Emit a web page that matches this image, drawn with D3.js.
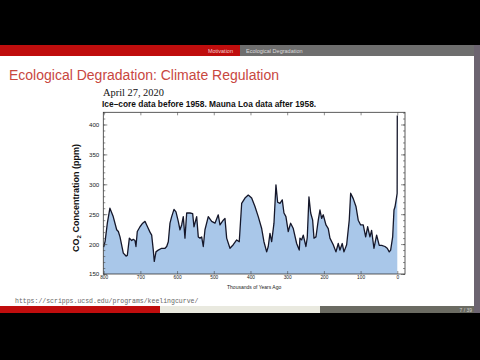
<!DOCTYPE html>
<html><head><meta charset="utf-8">
<script src="https://cdn.jsdelivr.net/npm/d3@7"></script>
<style>html,body{margin:0;padding:0;background:#000;}svg{display:block;}</style>
</head><body>
<svg id="c" width="480" height="360"></svg>
<script>
// Data (thousands of years ago, CO2 ppm)
const kyrAgo = [800,796,790,783,774,764.5,760,755.5,746.5,739,735.6,730,723.6,719.3,714.7,712,708.4,701,693.7,687.4,682.8,678.4,673.8,669.2,664.8,662.1,657.5,651.2,641.9,632.9,628.3,623.9,619.3,614.7,608.4,603,596.7,592.1,587.5,583.1,578.5,573.8,564.8,557.5,554,546.6,542.2,537.6,533,528.6,524,515,505.7,496.7,487.8,483.1,474.1,469.5,464.9,455.9,446.9,437.6,430.6,424,415,406,396.8,387.8,378.8,369.5,363.3,355.9,351.6,346.9,342.3,336,330.6,326,319.7,313.4,308.8,303.4,297.1,290.6,283.4,274.2,267.1,265.2,260.7,256.2,248.9,245.3,240.7,236,230.6,227,221.6,215.3,210.7,206.1,201.7,194.3,188.1,183.5,174.5,167.1,160.9,156.2,150,145.3,138,130.9,127.1,120,112.6,106.4,99.8,92.8,86.2,80.8,74.5,70,63.6,56.3,49.2,42.6,33.6,27.4,21.9,18.1,12.6,9,6.3,1.8,0.4,0];
const co2 = [195,205,235,260,246,224,221,212,185,180,181,210,206,208,206,196,221,229,235,238,232,226,220,215,190,171,187,190,193,193,196,204,235,246,258,254,238,224,232,246,210,252,252,251,229,246,212,210,212,196,224,246,238,235,249,232,240,243,210,193,199,207,204,268,277,282,277,263,246,226,204,187,196,218,204,235,299,270,268,274,252,246,221,235,226,201,190,210,207,215,196,211,279,252,240,210,212,240,257,243,249,232,226,210,199,187,201,190,201,187,199,240,285,276,263,240,232,232,212,229,212,223,193,215,198,198,196,193,187,190,212,257,262,279,285,415];
const xTicks = [800,700,600,500,400,300,200,100,0];
const yTicks = [150,200,250,300,350,400];
const headerLeft = "Motivation";
const headerRight = "Ecological Degradation";
const slideTitle = "Ecological Degradation: Climate Regulation";
const dateLabel = "April 27, 2020";
const chartTitle = "Ice\u2013core data before 1958. Mauna Loa data after 1958.";
const xLabel = "Thousands of Years Ago";
const sourceUrl = "https://scripps.ucsd.edu/programs/keelingcurve/";
const pageLabel = "7 / 39";

const svg = d3.select("#c");
// slide
svg.append("rect").attr("x",0).attr("y",0).attr("width",480).attr("height",360).attr("fill","#000");
svg.append("rect").attr("x",0).attr("y",45).attr("width",474).attr("height",268).attr("fill","#fff");
svg.append("rect").attr("x",474).attr("y",45).attr("width",6).attr("height",268).attr("fill","#6c6470");
// header bar
svg.append("rect").attr("x",0).attr("y",45).attr("width",240).attr("height",11).attr("fill","#bf0d0d");
svg.append("rect").attr("x",240).attr("y",45).attr("width",234).attr("height",11).attr("fill","#6e6e6e");
svg.append("text").attr("x",233).attr("y",52.5).attr("text-anchor","end").attr("font-family","Liberation Sans, Arial").attr("font-size",5.5).attr("fill","#f3d0d0").text(headerLeft);
svg.append("text").attr("x",246).attr("y",52.5).attr("font-family","Liberation Sans, Arial").attr("font-size",5.5).attr("fill","#dcdcdc").text(headerRight);
// title
svg.append("text").attr("x",9).attr("y",80).attr("font-family","Liberation Sans, Arial").attr("font-size",14).attr("fill","#c8473f").text(slideTitle);
// footer
svg.append("text").attr("x",15).attr("y",303).attr("font-family","Liberation Mono, DejaVu Sans Mono, monospace").attr("font-size",6.5).attr("fill","#666").text(sourceUrl);
svg.append("rect").attr("x",0).attr("y",306).attr("width",160).attr("height",7).attr("fill","#c00d0d");
svg.append("rect").attr("x",160).attr("y",306).attr("width",160).attr("height",7).attr("fill","#e9e9df");
svg.append("rect").attr("x",320).attr("y",306).attr("width",154).attr("height",7).attr("fill","#6b6b62");
svg.append("text").attr("x",472).attr("y",311.5).attr("text-anchor","end").attr("font-family","Liberation Sans, Arial").attr("font-size",5).attr("fill","#cfcfcf").text(pageLabel);

// chart
const L=103.3, R=405, T=112.3, B=274;
const x = d3.scaleLinear().domain([801,-21]).range([L,R]);
const y = d3.scaleLinear().domain([150,420.4]).range([B,T]);
const pts = kyrAgo.map((t,i)=>[t,co2[i]]);

svg.append("text").attr("x",103).attr("y",96).attr("font-family","Liberation Serif, Times New Roman, serif").attr("font-size",10.4).attr("fill","#111").text(dateLabel);
svg.append("text").attr("x",102).attr("y",107).attr("font-family","Liberation Sans, Arial").attr("font-weight","bold").attr("font-size",8.4).attr("fill","#111").text(chartTitle);

const area = d3.area().x(d=>x(d[0])).y0(y(150)).y1(d=>y(d[1]));
svg.append("path").datum(pts).attr("d",area).attr("fill","#a9c7e9");
const line = d3.line().x(d=>x(d[0])).y(d=>y(d[1]));
svg.append("path").datum(pts).attr("d",line).attr("fill","none").attr("stroke","#15172a").attr("stroke-width",1.3).attr("stroke-linejoin","round");

// frame
svg.append("rect").attr("x",L).attr("y",T).attr("width",R-L).attr("height",B-T).attr("fill","none").attr("stroke","#333").attr("stroke-width",0.8);

// axes with inward ticks
const yMinor = d3.range(150,421,10);
const gyl = svg.append("g").attr("transform",`translate(${L},0)`)
  .call(d3.axisRight(y).tickValues(yMinor).tickSize(2).tickFormat(""));
const gyl2 = svg.append("g").attr("transform",`translate(${L},0)`)
  .call(d3.axisRight(y).tickValues(yTicks).tickSize(4).tickFormat(""));
const gyr = svg.append("g").attr("transform",`translate(${R},0)`)
  .call(d3.axisLeft(y).tickValues(yMinor).tickSize(2).tickFormat(""));
const gyr2 = svg.append("g").attr("transform",`translate(${R},0)`)
  .call(d3.axisLeft(y).tickValues(yTicks).tickSize(4).tickFormat(""));
const gxb = svg.append("g").attr("transform",`translate(0,${B})`)
  .call(d3.axisTop(x).tickValues(xTicks).tickSize(3).tickFormat(""));
const gxt = svg.append("g").attr("transform",`translate(0,${T})`)
  .call(d3.axisBottom(x).tickValues(xTicks).tickSize(3).tickFormat(""));
[gyl,gyl2,gyr,gyr2,gxb,gxt].forEach(g=>{g.select(".domain").remove();g.selectAll("line").attr("stroke","#444").attr("stroke-width",0.6);});

// tick labels
const gyLab = svg.append("g").attr("transform",`translate(${L},0)`)
  .call(d3.axisLeft(y).tickValues(yTicks).tickSize(0).tickPadding(4).tickFormat(d3.format("d")));
gyLab.select(".domain").remove();
gyLab.selectAll("text").attr("font-family","Liberation Sans, Arial").attr("font-size",6.2).attr("fill","#222");
const gxLab = svg.append("g").attr("transform",`translate(0,${B})`)
  .call(d3.axisBottom(x).tickValues(xTicks).tickSize(0).tickPadding(2).tickFormat(d3.format("d")));
gxLab.select(".domain").remove();
gxLab.selectAll("text").attr("font-family","Liberation Sans, Arial").attr("font-size",4.8).attr("fill","#222");

svg.append("text").attr("x",(L+R)/2).attr("y",289).attr("text-anchor","middle").attr("font-family","Liberation Sans, Arial").attr("font-size",5).attr("fill","#222").text(xLabel);

const yl = svg.append("text").attr("transform","translate(79,198) rotate(-90)").attr("text-anchor","middle")
  .attr("font-family","Liberation Sans, Arial").attr("font-weight","bold").attr("font-size",9).attr("fill","#111");
yl.append("tspan").text("CO");
yl.append("tspan").attr("font-size",6).attr("dy",2).text("2");
yl.append("tspan").attr("dy",-2).text(" Concentration (ppm)");
</script>
</body></html>
